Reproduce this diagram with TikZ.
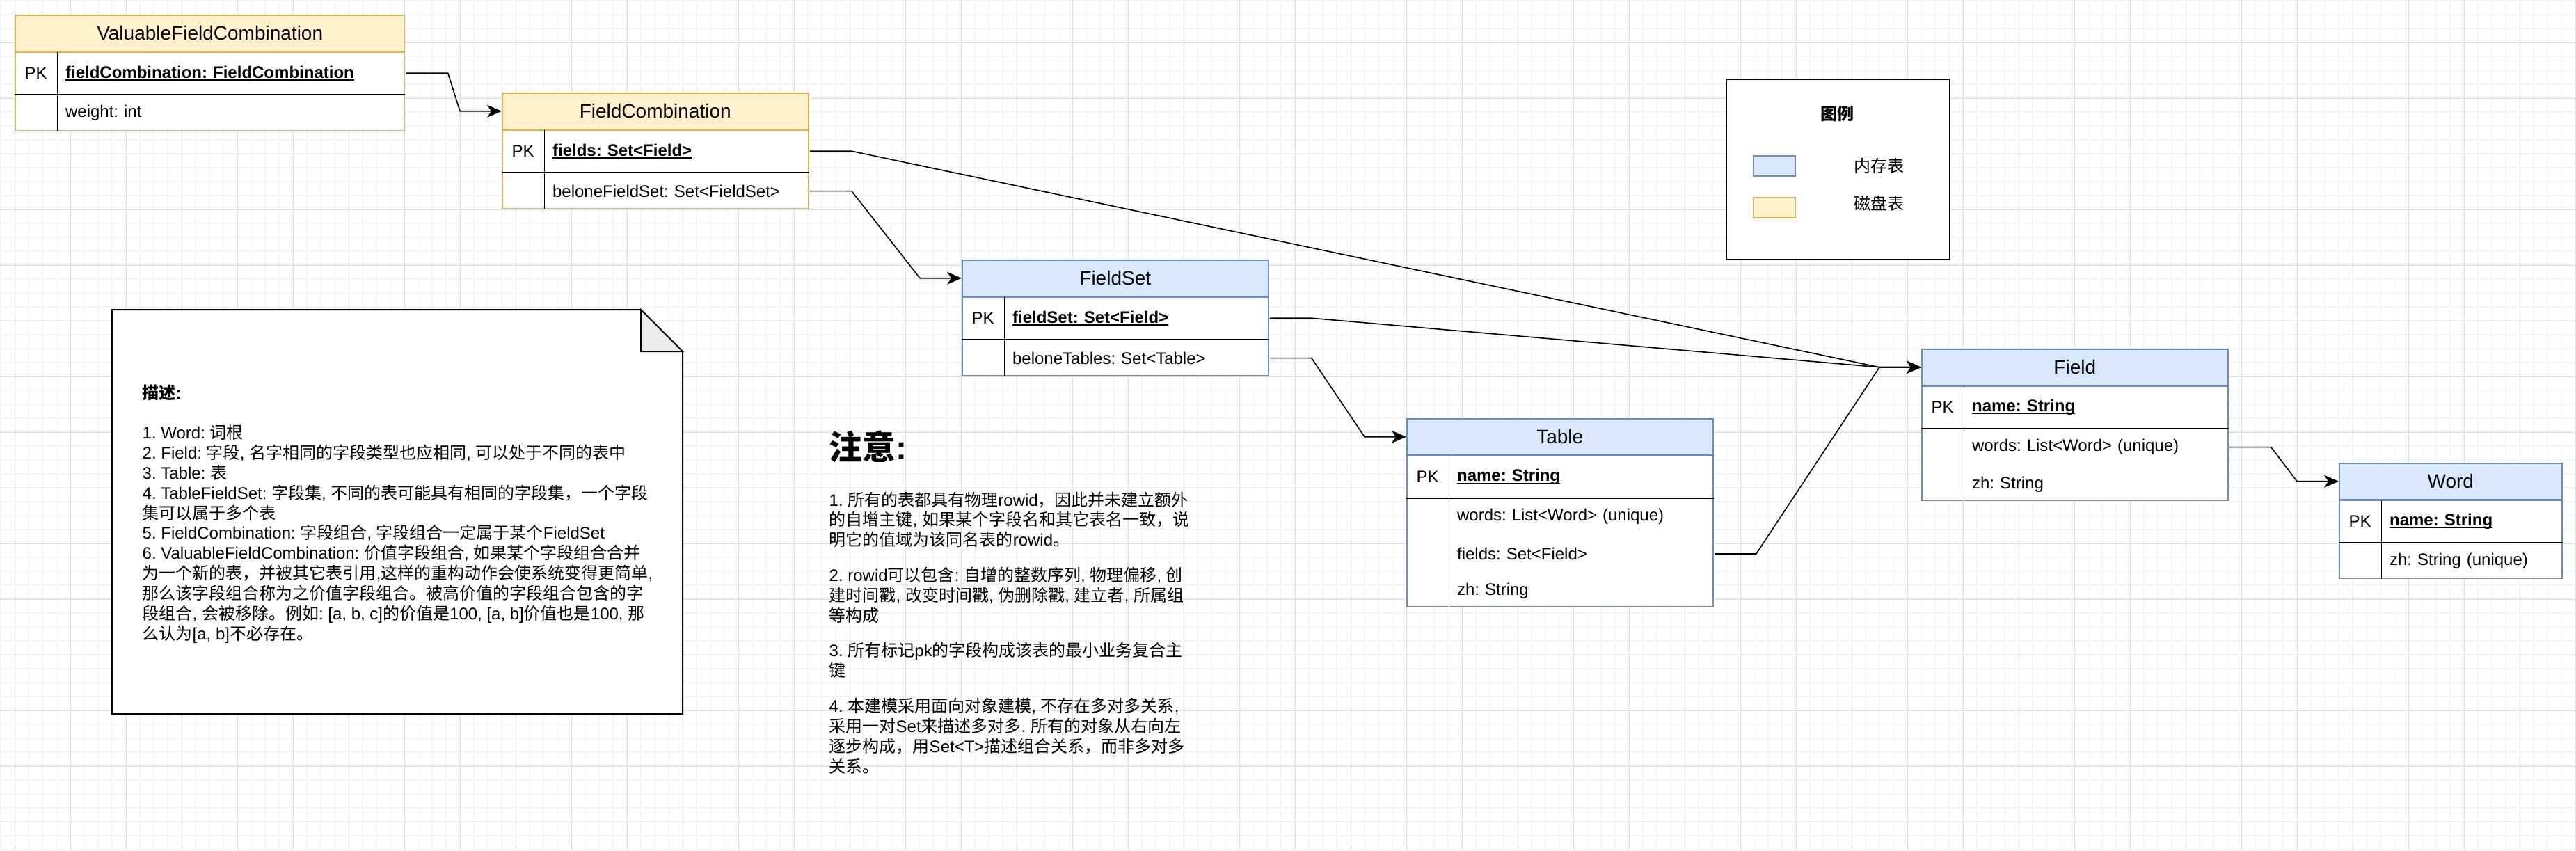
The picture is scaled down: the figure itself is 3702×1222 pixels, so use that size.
\documentclass[tikz,border=0pt]{standalone}
\usepackage{fontspec}
\setmainfont{Liberation Sans}
\newfontfamily\cjkfont{Noto Sans CJK SC}
\usetikzlibrary{arrows.meta,positioning}
\definecolor{memfill}{HTML}{DAE8FC}
\definecolor{memline}{HTML}{6C8EBF}
\definecolor{diskfill}{HTML}{FFF2CC}
\definecolor{diskline}{HTML}{D6B656}
\definecolor{foldgray}{HTML}{EBEBEB}
\definecolor{minorgray}{RGB}{244,244,244}
\definecolor{majorgray}{RGB}{222,222,222}
\XeTeXinterchartokenstate=1
\newXeTeXintercharclass\cjkclass
\count255="4E00
\loop
  \XeTeXcharclass\count255=\cjkclass
  \advance\count255 by 1
\ifnum\count255<"A000 \repeat
\XeTeXcharclass"3002=\cjkclass
\XeTeXcharclass"FF0C=\cjkclass
\XeTeXinterchartoks 0 \cjkclass={\cjkfont}
\XeTeXinterchartoks 4095 \cjkclass={\cjkfont}
\XeTeXinterchartoks \cjkclass 0={\rmfamily}
\frenchspacing
\newcommand\basefont{\fontsize{6.83pt}{8.2pt}\selectfont}
\newlength\pkeywidth
\newcommand\pkey[1]{\settowidth\pkeywidth{\bfseries #1}\rlap{\rule[-1pt]{\pkeywidth}{0.35pt}}\textbf{#1}}
\begin{document}
\begin{tikzpicture}[x=0.1mm,y=-0.1mm,font=\basefont,
    minorline/.style={draw=minorgray,line width=0.13mm},
    majorline/.style={draw=majorgray,line width=0.1mm},
    hdr/.style={draw,anchor=north west,minimum height=5.2mm,inner sep=0pt,line width=0.15mm,font=\fontsize{7.97pt}{9.6pt}\selectfont},
    memhdr/.style={hdr,fill=memfill,draw=memline},
    diskhdr/.style={hdr,fill=diskfill,draw=diskline},
    body/.style={draw,anchor=north west,fill=white,inner sep=0pt,line width=0.15mm},
    membody/.style={body,draw=memline},
    diskbody/.style={body,draw=diskline},
    pkcell/.style={anchor=north west,minimum width=6mm,minimum height=6mm,inner sep=0pt},
    pkrow/.style={anchor=north west,minimum height=6mm,inner xsep=1.1mm,inner ysep=0pt,text width=#1,align=left},
    attrrow/.style={anchor=north west,minimum height=5.2mm,inner xsep=1.1mm,inner ysep=0pt,text width=#1,align=left},
    coldiv/.style={line width=0.17mm},
    pkline/.style={line width=0.24mm},
    swatch/.style={draw,line width=0.15mm,minimum width=6.1mm,minimum height=2.9mm,inner sep=0pt},
    rel/.style={line width=0.16mm,-{Stealth[length=2.1mm,width=1.8mm,inset=0.6mm]}}]
\useasboundingbox (0,0) rectangle (3702,1222);
\fill[white] (0,0) rectangle (3702,1222);
\foreach \gx in {1,21,...,3701} \draw[minorline] (\gx,0) -- (\gx,1222);
\foreach \gy in {1,21,...,1221} \draw[minorline] (0,\gy) -- (3702,\gy);
\foreach \gx in {21,101,...,3701} \draw[majorline] (\gx,0) -- (\gx,1222);
\foreach \gy in {61,141,...,1221} \draw[majorline] (0,\gy) -- (3702,\gy);

\node[diskhdr,minimum width=56mm] (vfc) at (21,21) {ValuableFieldCombination};
\node[diskbody,minimum width=56mm,minimum height=11.2mm] (vfc-body) at (vfc.south west) {};
\node[pkcell] (vfc-pk) at (vfc-body.north west) {PK};
\node[pkrow=47.8mm] (vfc-combo) at (vfc-pk.north east) {\pkey{fieldCombination: FieldCombination}};
\node[attrrow=47.8mm] (vfc-weight) at (vfc-combo.south west) {weight: int};
\draw[pkline] (vfc-pk.south west) -- (vfc-pk.south west -| vfc-body.east);
\draw[coldiv] (vfc-pk.north east) -- (vfc-pk.north east |- vfc-body.south);

\node[diskhdr,minimum width=44mm] (fc) at (721,133) {FieldCombination};
\node[diskbody,minimum width=44mm,minimum height=11.2mm] (fc-body) at (fc.south west) {};
\node[pkcell] (fc-pk) at (fc-body.north west) {PK};
\node[pkrow=35.8mm] (fc-fields) at (fc-pk.north east) {\pkey{fields: Set<Field>}};
\node[attrrow=35.8mm] (fc-fieldset) at (fc-fields.south west) {beloneFieldSet: Set<FieldSet>};
\draw[pkline] (fc-pk.south west) -- (fc-pk.south west -| fc-body.east);
\draw[coldiv] (fc-pk.north east) -- (fc-pk.north east |- fc-body.south);

\node[memhdr,minimum width=44mm] (fs) at (1382,373) {FieldSet};
\node[membody,minimum width=44mm,minimum height=11.2mm] (fs-body) at (fs.south west) {};
\node[pkcell] (fs-pk) at (fs-body.north west) {PK};
\node[pkrow=35.8mm] (fs-fieldset) at (fs-pk.north east) {\pkey{fieldSet: Set<Field>}};
\node[attrrow=35.8mm] (fs-tables) at (fs-fieldset.south west) {beloneTables: Set<Table>};
\draw[pkline] (fs-pk.south west) -- (fs-pk.south west -| fs-body.east);
\draw[coldiv] (fs-pk.north east) -- (fs-pk.north east |- fs-body.south);

\node[memhdr,minimum width=44mm] (tbl) at (2021,601) {Table};
\node[membody,minimum width=44mm,minimum height=21.6mm] (tbl-body) at (tbl.south west) {};
\node[pkcell] (tbl-pk) at (tbl-body.north west) {PK};
\node[pkrow=35.8mm] (tbl-name) at (tbl-pk.north east) {\pkey{name: String}};
\node[attrrow=35.8mm] (tbl-words) at (tbl-name.south west) {words: List<Word> (unique)};
\node[attrrow=35.8mm] (tbl-fields) at (tbl-words.south west) {fields: Set<Field>};
\node[attrrow=35.8mm] (tbl-zh) at (tbl-fields.south west) {zh: String};
\draw[pkline] (tbl-pk.south west) -- (tbl-pk.south west -| tbl-body.east);
\draw[coldiv] (tbl-pk.north east) -- (tbl-pk.north east |- tbl-body.south);

\node[memhdr,minimum width=44mm] (fld) at (2761,501) {Field};
\node[membody,minimum width=44mm,minimum height=16.4mm] (fld-body) at (fld.south west) {};
\node[pkcell] (fld-pk) at (fld-body.north west) {PK};
\node[pkrow=35.8mm] (fld-name) at (fld-pk.north east) {\pkey{name: String}};
\node[attrrow=35.8mm] (fld-words) at (fld-name.south west) {words: List<Word> (unique)};
\node[attrrow=35.8mm] (fld-zh) at (fld-words.south west) {zh: String};
\draw[pkline] (fld-pk.south west) -- (fld-pk.south west -| fld-body.east);
\draw[coldiv] (fld-pk.north east) -- (fld-pk.north east |- fld-body.south);

\node[memhdr,minimum width=32mm] (wrd) at (3361,665) {Word};
\node[membody,minimum width=32mm,minimum height=11.2mm] (wrd-body) at (wrd.south west) {};
\node[pkcell] (wrd-pk) at (wrd-body.north west) {PK};
\node[pkrow=23.8mm] (wrd-name) at (wrd-pk.north east) {\pkey{name: String}};
\node[attrrow=23.8mm] (wrd-zh) at (wrd-name.south west) {zh: String (unique)};
\draw[pkline] (wrd-pk.south west) -- (wrd-pk.south west -| wrd-body.east);
\draw[coldiv] (wrd-pk.north east) -- (wrd-pk.north east |- wrd-body.south);

\draw[rel] (vfc-combo.east) -- ++(60,0) -- ([xshift=-6mm]fc.west) -- (fc.west);
\draw[rel] (fc-fieldset.east) -- ++(60,0) -- ([xshift=-6mm]fs.west) -- (fs.west);
\draw[rel] (fc-fields.east) -- ++(60,0) -- ([xshift=-6mm]fld.west) -- (fld.west);
\draw[rel] (fs-fieldset.east) -- ++(60,0) -- ([xshift=-6mm]fld.west) -- (fld.west);
\draw[rel] (fs-tables.east) -- ++(60,0) -- ([xshift=-6mm]tbl.west) -- (tbl.west);
\draw[rel] (tbl-fields.east) -- ++(60,0) -- ([xshift=-6mm]fld.west) -- (fld.west);
\draw[rel] (fld-words.east) -- ++(60,0) -- ([xshift=-6mm]wrd.west) -- (wrd.west);

\node[draw,line width=0.2mm,fill=white,anchor=north west,minimum width=32.1mm,minimum height=25.9mm] (legend) at (2480,113) {};
\node[font=\basefont\bfseries] (legend-title) at (2640,163) {图例};
\node[swatch,fill=memfill,draw=memline] (legend-mem) at (2550,238.5) {};
\node (legend-mem-text) at (2700,238.5) {内存表};
\node[swatch,fill=diskfill,draw=diskline] (legend-disk) at (2550,298.5) {};
\node (legend-disk-text) at (2700,292) {磁盘表};

\draw[line width=0.2mm,fill=white] (161,445) -- (921,445) -- (981,505) -- (981,1026) -- (161,1026) -- cycle;
\draw[line width=0.2mm,fill=foldgray] (921,445) -- (921,505) -- (981,505) -- cycle;
\node[anchor=north west,align=left,inner sep=0pt] (desc) at (204,552) {\textbf{描述:}\\[2.88mm]
1. Word: 词根\\
2. Field: 字段, 名字相同的字段类型也应相同, 可以处于不同的表中\\
3. Table: 表\\
4. TableFieldSet: 字段集, 不同的表可能具有相同的字段集，一个字段\\
集可以属于多个表\\
5. FieldCombination: 字段组合, 字段组合一定属于某个FieldSet\\
6. ValuableFieldCombination: 价值字段组合, 如果某个字段组合合并\\
为一个新的表，并被其它表引用,这样的重构动作会使系统变得更简单,\\
那么该字段组合称为之价值字段组合。被高价值的字段组合包含的字\\
段组合, 会被移除。例如: [a, b, c]的价值是100, [a, b]价值也是100, 那\\
么认为[a, b]不必存在。};

\node[anchor=north west,inner sep=0pt,font=\fontsize{13.66pt}{16.4pt}\selectfont\bfseries] (notice-title) at (1191,618) {注意:};
\node[anchor=north west,align=left,inner sep=0pt] (notice) at (1191,706) {1. 所有的表都具有物理rowid，因此并未建立额外\\
的自增主键, 如果某个字段名和其它表名一致，说\\
明它的值域为该同名表的rowid。\\[2.2mm]
2. rowid可以包含: 自增的整数序列, 物理偏移, 创\\
建时间戳, 改变时间戳, 伪删除戳, 建立者, 所属组\\
等构成\\[2.2mm]
3. 所有标记pk的字段构成该表的最小业务复合主\\
键\\[2.2mm]
4. 本建模采用面向对象建模, 不存在多对多关系,\\
采用一对Set来描述多对多. 所有的对象从右向左\\
逐步构成，用Set<T>描述组合关系，而非多对多\\
关系。};
\end{tikzpicture}
\end{document}
